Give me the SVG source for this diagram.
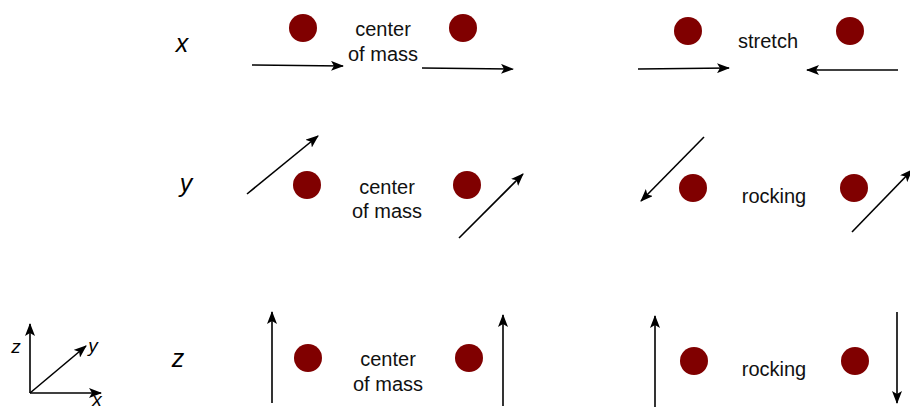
<svg xmlns="http://www.w3.org/2000/svg" width="910" height="410" viewBox="0 0 910 410">
<defs>
<marker id="ah" markerUnits="userSpaceOnUse" markerWidth="13" markerHeight="10" refX="12" refY="5" orient="auto">
<path d="M0,0 L13,5 L0,10 L3,5 Z" fill="#000"/>
</marker>
<style>
.a{stroke:#000;stroke-width:1.6;fill:none;marker-end:url(#ah)}
.d{fill:#800000}
.t{font-family:"Liberation Sans",Arial,sans-serif;font-size:20px;fill:#111;text-anchor:middle}
.l{font-family:"Liberation Sans",Arial,sans-serif;font-size:25px;font-style:italic;fill:#000;text-anchor:middle}
.s{font-family:"Liberation Sans",Arial,sans-serif;font-size:19px;font-style:italic;fill:#000;text-anchor:middle}
</style>
</defs>
<rect width="910" height="410" fill="#fff"/>
<g id="axes">
<line class="a" x1="30" y1="393" x2="30" y2="324"/>
<line class="a" x1="30" y1="393" x2="101" y2="393"/>
<line class="a" x1="30" y1="393" x2="86" y2="346"/>
<text class="s" x="16" y="353">z</text>
<text class="s" x="93" y="352">y</text>
<text class="s" x="97" y="406">x</text>
</g>
<g id="labels">
<text class="l" x="182" y="52">x</text>
<text class="l" x="186" y="192">y</text>
<text class="l" x="178" y="367">z</text>
</g>
<g id="row-x-com">
<circle class="d" cx="303" cy="28" r="14"/>
<circle class="d" cx="463" cy="28" r="14"/>
<text class="t" x="383" y="36">center</text>
<text class="t" x="383" y="61">of mass</text>
</g>
<g id="row-x-stretch">
<circle class="d" cx="688" cy="31" r="14"/>
<circle class="d" cx="850" cy="31" r="14"/>
<text class="t" x="768" y="48">stretch</text>
</g>
<g id="row-y-com">
<circle class="d" cx="307" cy="185" r="14"/>
<circle class="d" cx="467" cy="185" r="14"/>
<text class="t" x="387" y="194">center</text>
<text class="t" x="387" y="218">of mass</text>
</g>
<g id="row-y-rocking">
<circle class="d" cx="693" cy="188" r="14"/>
<circle class="d" cx="854" cy="188" r="14"/>
<text class="t" x="774" y="203">rocking</text>
</g>
<g id="row-z-com">
<circle class="d" cx="308" cy="358" r="14"/>
<circle class="d" cx="469" cy="358" r="14"/>
<text class="t" x="388" y="366">center</text>
<text class="t" x="388" y="391">of mass</text>
</g>
<g id="row-z-rocking">
<circle class="d" cx="694" cy="361" r="14"/>
<circle class="d" cx="855" cy="361" r="14"/>
<text class="t" x="774" y="376">rocking</text>
</g>
<g id="connectors">
<line class="a" x1="252" y1="65" x2="343" y2="66"/>
<line class="a" x1="422" y1="68" x2="513" y2="69"/>
<line class="a" x1="638" y1="69" x2="729" y2="68"/>
<line class="a" x1="898" y1="70" x2="807" y2="70"/>
<line class="a" x1="247" y1="194" x2="318" y2="136"/>
<line class="a" x1="459" y1="238" x2="523" y2="174"/>
<line class="a" x1="704" y1="137" x2="641" y2="201"/>
<line class="a" x1="852" y1="232" x2="912" y2="170"/>
<line class="a" x1="272" y1="403" x2="272" y2="312"/>
<line class="a" x1="503" y1="406" x2="503" y2="315"/>
<line class="a" x1="655" y1="407" x2="655" y2="316"/>
<line class="a" x1="897" y1="312" x2="897" y2="403"/>
</g>
</svg>
